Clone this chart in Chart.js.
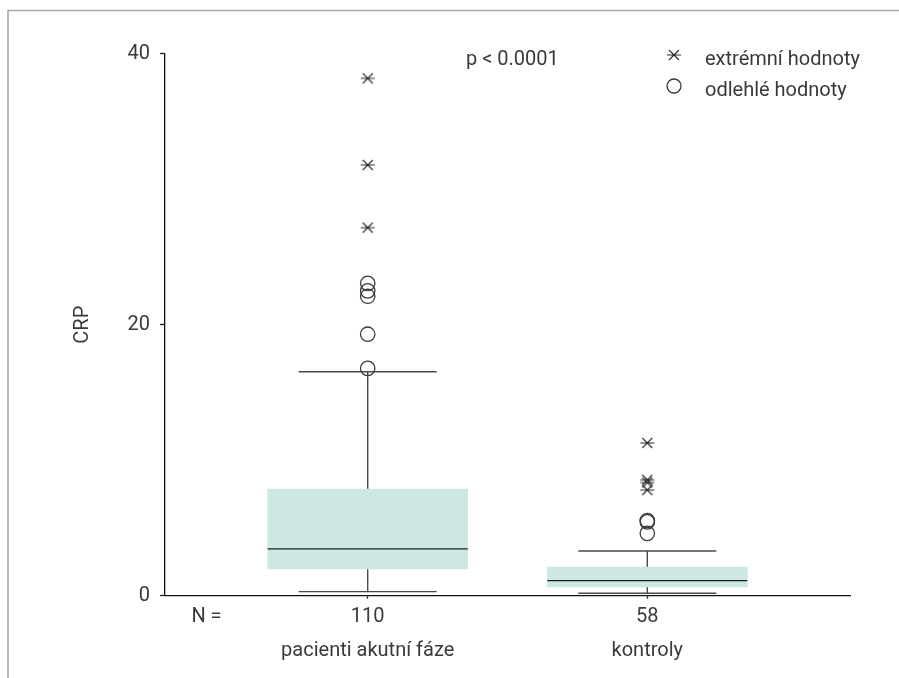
<!DOCTYPE html>
<html><head><meta charset="utf-8">
<script src="https://cdn.jsdelivr.net/npm/chart.js@4.4.1/dist/chart.umd.min.js"></script>
<style>html,body{margin:0;padding:0;background:#fff;overflow:hidden}#wrap{width:899px;height:678px;position:relative}</style>
</head><body><div id="wrap"><canvas id="c" width="899" height="678"></canvas></div>
<script>
// ---- data ----
const categories = ['pacienti akutní fáze', 'kontroly'];
const counts = [110, 58];
const whiskerLow = [0.3, 0.18];
const q1 = [1.97, 0.64];
const median = [3.45, 1.11];
const q3 = [7.87, 2.12];
const whiskerHigh = [16.53, 3.3];
const outliers = [[16.78, 19.3, 22.1, 22.5, 23.05], [4.6, 5.45, 5.55]];
const extremes = [[27.16, 31.79, 38.18], [7.8, 8.35, 8.55, 11.27]];
const yTicks = [0, 20, 40];
const yTitle = 'CRP';
const nLabel = 'N =';
const pText = 'p < 0.0001';
const legendLabels = ['extrémní hodnoty', 'odlehlé hodnoty'];

// ---- style ----
const FONT = 'Roboto';
const FS = 20;
const TXT = '#3a3a3a';
const BOX = '#cde8e3';

function makeStar() {
  const c = document.createElement('canvas');
  c.width = 16; c.height = 16;
  const g = c.getContext('2d');
  g.strokeStyle = '#2a2a2a'; g.lineWidth = 1.1;
  const m = 8;
  g.beginPath();
  g.moveTo(m - 7, m); g.lineTo(m + 7, m);
  g.moveTo(m - 5, m - 5); g.lineTo(m + 5, m + 5);
  g.moveTo(m - 5, m + 5); g.lineTo(m + 5, m - 5);
  g.stroke();
  return c;
}
const star = makeStar();

const pos = categories.map((c, i) => i + 1);

const datasets = [];
pos.forEach((x, i) => {
  datasets.push({
    type: 'line', order: 6,
    data: [{x, y: whiskerLow[i]}, {x, y: whiskerHigh[i]}],
    borderColor: '#4a4a4a', borderWidth: 1.4, pointRadius: 0, fill: false
  });
});
datasets.push({
  type: 'bar', order: 5,
  data: pos.map((x, i) => ({x, y: [q1[i], q3[i]]})),
  backgroundColor: BOX, borderWidth: 0, barThickness: 200, grouped: false
});
datasets.push({
  type: 'scatter', order: 4,
  data: pos.map((x, i) => ({x, y: median[i]})),
  pointStyle: 'line', pointRadius: 100, borderColor: '#1a1a1a', borderWidth: 1.2
});
datasets.push({
  type: 'scatter', order: 4,
  data: pos.flatMap((x, i) => [{x, y: whiskerLow[i]}, {x, y: whiskerHigh[i]}]),
  pointStyle: 'line', pointRadius: 69, borderColor: '#4a4a4a', borderWidth: 1.4
});
datasets.push({
  type: 'scatter', order: 1,
  data: pos.flatMap((x, i) => outliers[i].map(v => ({x, y: v}))),
  pointStyle: 'circle', pointRadius: 7.2, borderColor: '#3a3a3a', borderWidth: 1.3,
  backgroundColor: 'rgba(0,0,0,0)'
});
datasets.push({
  type: 'scatter', order: 1,
  data: pos.flatMap((x, i) => extremes[i].map(v => ({x, y: v}))),
  pointStyle: star, pointRadius: 7
});

const deco = {
  id: 'deco',
  beforeDraw(chart) {
    const ctx = chart.ctx;
    ctx.save();
    ctx.strokeStyle = '#a8a8a8'; ctx.lineWidth = 1.6;
    ctx.beginPath();
    ctx.moveTo(8, 678); ctx.lineTo(8, 10.5); ctx.lineTo(899, 10.5);
    ctx.stroke();
    ctx.restore();
  },
  afterDraw(chart) {
    const ctx = chart.ctx;
    const a = chart.chartArea;
    ctx.save();
    ctx.font = FS + 'px ' + FONT;
    ctx.fillStyle = TXT;
    ctx.textBaseline = 'alphabetic';
    ctx.textAlign = 'left';
    ctx.fillText(pText, a.left + 301, 65);
    const lx = a.right - 176;
    Chart.helpers.drawPoint(ctx, {pointStyle: star, radius: 7}, lx, 55);
    ctx.strokeStyle = '#3a3a3a'; ctx.lineWidth = 1.3; ctx.fillStyle = 'rgba(0,0,0,0)';
    Chart.helpers.drawPoint(ctx, {pointStyle: 'circle', radius: 7, borderWidth: 1.3}, lx, 86);
    ctx.fillStyle = TXT;
    ctx.fillText(legendLabels[0], lx + 31, 65);
    ctx.fillText(legendLabels[1], lx + 31, 96);
    ctx.restore();
  }
};

Chart.defaults.font.family = FONT;
Chart.defaults.font.size = FS;
Chart.defaults.color = TXT;

new Chart(document.getElementById('c'), {
  type: 'scatter',
  data: { datasets },
  plugins: [deco],
  options: {
    responsive: false, animation: false,
    layout: { autoPadding: false, padding: { left: 71, right: 49, top: 53.7, bottom: 0 } },
    plugins: { legend: { display: false }, tooltip: { enabled: false } },
    scales: {
      x: {
        type: 'linear', min: 0.275, max: 2.725, offset: false,
        afterBuildTicks: s => { s.ticks = [{value: 0.4234}].concat(pos.map(v => ({value: v}))); },
        ticks: {
          autoSkip: false, maxRotation: 0, padding: 2,
          font: { size: FS, lineHeight: 1.66 },
          callback: (v, i) => i === 0 ? [nLabel, ''] : [String(counts[i - 1]), categories[i - 1]]
        },
        grid: { offset: false, drawOnChartArea: false, tickLength: 3, tickWidth: 1.3,
                tickColor: c => c.index === 0 ? 'rgba(0,0,0,0)' : '#222' },
        border: { color: '#111', width: 1.3 },
        afterFit: s => { s.height = 82.3; s.paddingLeft = 0; s.paddingRight = 0; }
      },
      y: {
        type: 'linear', min: 0, max: 40,
        afterBuildTicks: s => { s.ticks = yTicks.map(v => ({value: v})); },
        ticks: { padding: 10, font: { size: FS } },
        grid: { drawOnChartArea: false, tickLength: 5, tickWidth: 1.3, tickColor: '#222' },
        border: { color: '#111', width: 1.3 },
        title: { display: true, text: yTitle, padding: 0, font: { size: FS, lineHeight: 1.2 } },
        afterFit: s => { s.width = 94; s.paddingTop = 0; s.paddingBottom = 0; }
      }
    }
  }
});
</script></body></html>
